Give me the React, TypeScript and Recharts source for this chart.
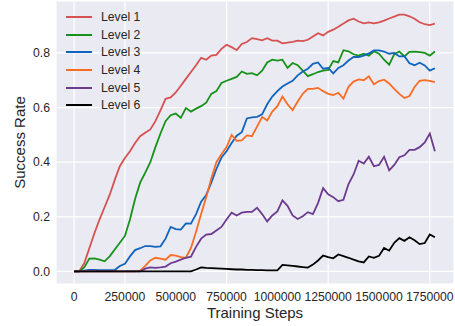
import { LineChart, Line, XAxis, YAxis, CartesianGrid, Legend } from 'recharts';

const FONT = '"Liberation Sans", Arial, sans-serif';

const steps = [
  0, 25000, 50000, 75000, 100000, 125000, 150000, 175000, 200000, 225000,
  250000, 275000, 300000, 325000, 350000, 375000, 400000, 425000, 450000, 475000,
  500000, 525000, 550000, 575000, 600000, 625000, 650000, 675000, 700000, 725000,
  750000, 775000, 800000, 825000, 850000, 875000, 900000, 925000, 950000, 975000,
  1000000, 1025000, 1050000, 1075000, 1100000, 1125000, 1150000, 1175000, 1200000, 1225000,
  1250000, 1275000, 1300000, 1325000, 1350000, 1375000, 1400000, 1425000, 1450000, 1475000,
  1500000, 1525000, 1550000, 1575000, 1600000, 1625000, 1650000, 1675000, 1700000, 1725000,
  1750000, 1775000,
];

const level1 = [
  0, 0, 0.03, 0.085, 0.14, 0.19, 0.235, 0.28, 0.335, 0.385,
  0.415, 0.44, 0.47, 0.495, 0.508, 0.52, 0.55, 0.59, 0.632, 0.637,
  0.655, 0.68, 0.705, 0.73, 0.755, 0.782, 0.775, 0.79, 0.793, 0.815,
  0.83, 0.821, 0.81, 0.833, 0.84, 0.854, 0.85, 0.846, 0.854, 0.845,
  0.845, 0.835, 0.838, 0.84, 0.845, 0.843, 0.848, 0.86, 0.872, 0.864,
  0.877, 0.885, 0.896, 0.908, 0.919, 0.925, 0.915, 0.908, 0.912, 0.908,
  0.912, 0.918, 0.926, 0.933, 0.94, 0.94, 0.934, 0.925, 0.912, 0.905,
  0.902, 0.907,
];

const level2 = [
  0, 0, 0.015, 0.047, 0.048, 0.043, 0.037, 0.055, 0.08, 0.105,
  0.13, 0.19, 0.265, 0.325, 0.362, 0.4, 0.455, 0.505, 0.55, 0.572,
  0.578, 0.562, 0.598, 0.585, 0.596, 0.605, 0.618, 0.65, 0.66, 0.69,
  0.698, 0.705, 0.712, 0.732, 0.723, 0.726, 0.718, 0.735, 0.765, 0.775,
  0.772, 0.775, 0.745, 0.763, 0.755, 0.735, 0.715, 0.722, 0.73, 0.735,
  0.738, 0.77, 0.765, 0.81, 0.806, 0.795, 0.79, 0.797, 0.79, 0.806,
  0.797, 0.775, 0.757, 0.795, 0.805, 0.787, 0.804, 0.805, 0.803, 0.8,
  0.79, 0.805,
];

const level3 = [
  0, 0, 0.003, 0.006, 0.006, 0.005, 0.005, 0.005, 0.005, 0.02,
  0.028, 0.055, 0.078, 0.085, 0.093, 0.093, 0.09, 0.092, 0.12, 0.163,
  0.155, 0.153, 0.176, 0.175, 0.21, 0.255, 0.28, 0.325, 0.375, 0.417,
  0.44, 0.47, 0.497, 0.51, 0.56, 0.564, 0.566, 0.575, 0.612, 0.64,
  0.66, 0.677, 0.688, 0.698, 0.718, 0.732, 0.742, 0.76, 0.765, 0.742,
  0.745, 0.725, 0.745, 0.755, 0.772, 0.785, 0.785, 0.79, 0.798, 0.809,
  0.809, 0.805, 0.797, 0.8, 0.787, 0.788, 0.762, 0.755, 0.764, 0.754,
  0.735, 0.744,
];

const level4 = [
  0, 0, 0, 0, 0, 0, 0, 0, 0, 0,
  0, 0, 0, 0.003, 0.02, 0.04, 0.05, 0.047, 0.043, 0.06,
  0.058, 0.052, 0.05, 0.086, 0.145, 0.21, 0.272, 0.34, 0.4, 0.429,
  0.455, 0.5, 0.478, 0.48, 0.498, 0.495, 0.53, 0.565, 0.553, 0.585,
  0.605, 0.64, 0.612, 0.59, 0.622, 0.65, 0.668, 0.668, 0.672, 0.66,
  0.65, 0.646, 0.654, 0.633, 0.676, 0.695, 0.703, 0.7, 0.714, 0.685,
  0.697, 0.702, 0.688, 0.668, 0.65, 0.635, 0.642, 0.675, 0.698, 0.7,
  0.698, 0.693,
];

const level5 = [
  0, 0, 0, 0, 0, 0, 0, 0, 0, 0,
  0, 0, 0, 0, 0.01, 0.015, 0.013, 0.015, 0.018, 0.03,
  0.036, 0.043, 0.05, 0.054, 0.09, 0.12, 0.135, 0.137, 0.15, 0.163,
  0.19, 0.215, 0.205, 0.215, 0.218, 0.218, 0.233, 0.21, 0.183, 0.205,
  0.22, 0.26, 0.24, 0.205, 0.192, 0.202, 0.217, 0.21, 0.25, 0.305,
  0.282, 0.272, 0.257, 0.262, 0.32, 0.355, 0.405, 0.395, 0.42, 0.385,
  0.39, 0.42, 0.37, 0.39, 0.418, 0.425, 0.445, 0.445, 0.455, 0.472,
  0.505, 0.44,
];

const level6 = [
  0, 0, 0, 0, 0, 0, 0, 0, 0, 0,
  0, 0, 0, 0, 0, 0, 0, 0, 0, 0,
  0, 0, 0, 0, 0.007, 0.015, 0.013, 0.012, 0.011, 0.01,
  0.009, 0.008, 0.007, 0.007, 0.006, 0.006, 0.005, 0.005, 0.004, 0.004,
  0.004, 0.024, 0.022, 0.02, 0.018, 0.016, 0.014, 0.025, 0.04, 0.058,
  0.052, 0.048, 0.062, 0.056, 0.05, 0.043, 0.037, 0.033, 0.055, 0.05,
  0.057, 0.086, 0.076, 0.105, 0.122, 0.112, 0.125, 0.114, 0.1, 0.104,
  0.135, 0.125,
];

const levelNames = ['Level 1', 'Level 2', 'Level 3', 'Level 4', 'Level 5', 'Level 6'];
const levelColors = ['#d65152', '#16921a', '#1164bd', '#f96c23', '#6c3a8e', '#000000'];
const levels = [level1, level2, level3, level4, level5, level6];

const xTicks = [0, 250000, 500000, 750000, 1000000, 1250000, 1500000, 1750000];
const yTicks = [0, 0.2, 0.4, 0.6, 0.8];

const chartData = steps.map((step, i) => {
  const row: Record<string, number> = { step };
  levels.forEach((vals, j) => {
    row[`l${j + 1}`] = vals[i];
  });
  return row;
});

// legend drawn inside the plot, top-left, no frame (seaborn style)
function LevelLegend() {
  return (
    <div style={{ fontFamily: FONT, fontSize: 12.2, color: '#262626' }}>
      {levelNames.map((name, i) => (
        <div key={name} style={{ display: 'flex', alignItems: 'center', height: 17.6 }}>
          <span
            style={{
              display: 'inline-block',
              width: 26,
              height: 0,
              borderTop: `2px solid ${levelColors[i]}`,
              marginRight: 9,
            }}
          />
          <span>{name}</span>
        </div>
      ))}
    </div>
  );
}

export default function App() {
  const tickStyle = { fill: '#262626', fontSize: 12.2, fontFamily: FONT };
  return (
    <div
      style={{
        position: 'absolute',
        left: 0,
        top: 0,
        width: 455,
        height: 326,
        background: '#fff',
        fontFamily: FONT,
      }}
    >
      <LineChart
        width={455}
        height={326}
        data={chartData}
        margin={{ top: 1, right: 1, bottom: 0, left: 0 }}
      >
        <CartesianGrid fill="#eaeaf2" stroke="#ffffff" strokeWidth={1.2} />
        <XAxis
          dataKey="step"
          type="number"
          domain={[-89000, 1869000]}
          ticks={xTicks}
          allowDataOverflow
          axisLine={false}
          tickLine={false}
          tickSize={4}
          tickMargin={4}
          height={42}
          tick={tickStyle}
          tickFormatter={(v) => String(v)}
          label={{
            value: 'Training Steps',
            position: 'insideBottom',
            offset: 8,
            style: { fill: '#262626', fontSize: 15, fontFamily: FONT },
          }}
        />
        <YAxis
          type="number"
          domain={[-0.046, 0.99]}
          ticks={yTicks}
          allowDataOverflow
          axisLine={false}
          tickLine={false}
          tickSize={4}
          tickMargin={2}
          width={56}
          tick={tickStyle}
          tickFormatter={(v) => Number(v).toFixed(1)}
          label={{
            value: 'Success Rate',
            angle: -90,
            position: 'insideLeft',
            offset: 20,
            style: { textAnchor: 'middle', fill: '#262626', fontSize: 15, fontFamily: FONT },
          }}
        />
        <Legend
          layout="horizontal"
          verticalAlign="middle"
          align="center"
          content={() => <LevelLegend />}
          wrapperStyle={{ left: 66, top: 8.5, width: 'auto' }}
        />
        {levelNames.map((name, i) => (
          <Line
            key={name}
            type="linear"
            dataKey={`l${i + 1}`}
            name={name}
            stroke={levelColors[i]}
            strokeWidth={1.8}
            dot={false}
            activeDot={false}
            isAnimationActive={false}
          />
        ))}
      </LineChart>
    </div>
  );
}
